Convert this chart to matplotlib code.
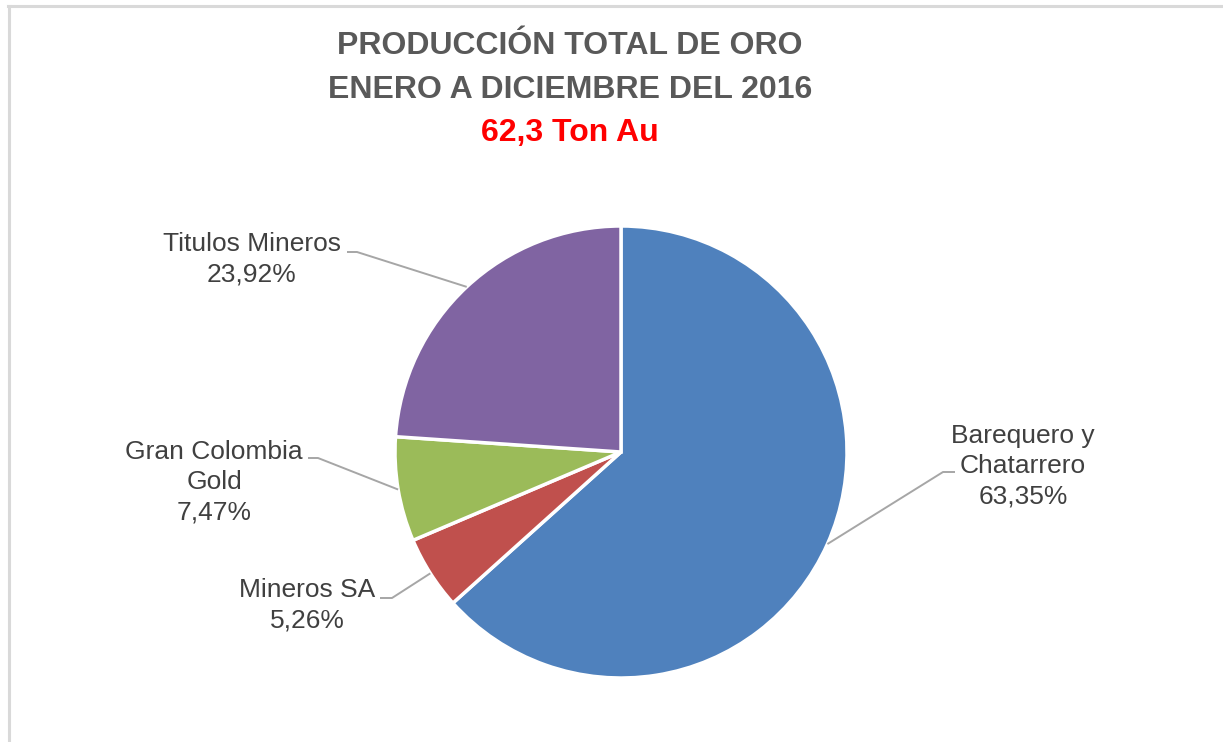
import numpy as np
import matplotlib
matplotlib.use("Agg")
import matplotlib.pyplot as plt
from matplotlib.lines import Line2D

# data
categories = ["Barequero y\nChatarrero", "Mineros SA", "Gran Colombia\nGold", "Titulos Mineros"]
shares = [63.35, 5.26, 7.47, 23.92]
colors = ["#4F81BD", "#C0504D", "#9BBB59", "#8064A2"]
title_lines = ["PRODUCCIÓN TOTAL DE ORO", "ENERO A DICIEMBRE DEL 2016"]
total_label = "62,3 Ton Au"

W, H = 1223, 742
plt.rcParams["font.family"] = ["Liberation Sans", "DejaVu Sans"]

fig = plt.figure(figsize=(W / 100, H / 100), dpi=100)
ax = fig.add_axes([0, 0, 1, 1])

cx, cy, r = 621, H - 452, 226
wedges, _ = ax.pie(shares, colors=colors, startangle=90, counterclock=False,
                   center=(cx, cy), radius=r,
                   wedgeprops=dict(edgecolor="white", linewidth=2.5))
ax.set_xlim(0, W)
ax.set_ylim(0, H)
ax.set_aspect("equal")
ax.axis("off")

# label text centre and leader elbow (pixel coords, y down)
label_pos = [(1023, 466), (307, 605), (214, 482), (252, 259)]
elbows = [((955, 472), (943, 472)), ((380, 598), (392, 598)),
          ((308, 458), (318, 458)), ((347, 252), (357, 252))]

for w, lab, val, (tx, ty), (e0, e1) in zip(wedges, categories, shares, label_pos, elbows):
    mid = np.deg2rad((w.theta1 + w.theta2) / 2)
    px, py = cx + r * np.cos(mid), cy + r * np.sin(mid)
    ax.plot([e0[0], e1[0], px], [H - e0[1], H - e1[1], py], color="#A6A6A6", lw=1.4,
            solid_capstyle="butt")
    txt = f"{lab}\n{val:.2f}%".replace(".", ",")
    ax.text(tx, H - ty, txt, ha="center", va="center", fontsize=19, color="#404040",
            linespacing=1.32)

# title
ax.text(570, H - 46, title_lines[0], ha="center", va="center", fontsize=23,
        fontweight="bold", color="#595959")
ax.text(570, H - 90, title_lines[1], ha="center", va="center", fontsize=23,
        fontweight="bold", color="#595959")
ax.text(570, H - 133, total_label, ha="center", va="center", fontsize=23,
        fontweight="bold", color="#FF0000")

# chart area border (partly outside the picture)
fig.add_artist(Line2D([9 / W, 9 / W], [0, 1 - 5.5 / H], color="#D9D9D9", lw=2.2,
                      transform=fig.transFigure))
fig.add_artist(Line2D([8 / W, 1], [1 - 5.5 / H, 1 - 5.5 / H], color="#D9D9D9", lw=2.2,
                      transform=fig.transFigure))

fig.savefig("out.png", dpi=100)
